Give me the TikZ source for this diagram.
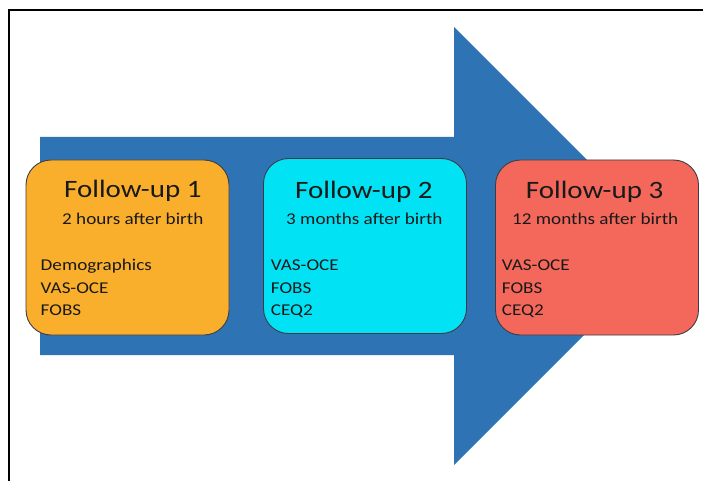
\documentclass[tikz,border=0pt]{standalone}
\usepackage{fontspec}
\setmainfont{Carlito}[FakeStretch=1.16]
\definecolor{arrowblue}{RGB}{46,116,181}
\definecolor{boxorange}{RGB}{250,175,44}
\definecolor{boxcyan}{RGB}{2,226,245}
\definecolor{boxsalmon}{RGB}{243,104,90}
\definecolor{boxedge}{RGB}{60,60,70}
\begin{document}
\begin{tikzpicture}[x=1pt,y=-1pt,
  stagebox/.style={draw=boxedge, line width=0.9pt, rounded corners=25pt,
    minimum width=203pt, minimum height=175pt, inner sep=0pt},
  titletext/.style={anchor=base west, inner sep=0pt, font=\fontsize{25}{28}\selectfont, text=black!90},
  subtext/.style={anchor=base west, inner sep=0pt, font=\fontsize{16.5}{19}\selectfont, text=black!90},
  itemtext/.style={anchor=base west, inner sep=0pt, font=\fontsize{16.5}{19}\selectfont, text=black!90}]
\useasboundingbox (0,0) rectangle (703,481);
\fill[white] (0,0) rectangle (703,481);
\draw[line width=2pt] (9,481) -- (9,10.3) -- (703,10.3);
\fill[arrowblue] (40,137) -- (454,137) -- (454,27) -- (673,246) -- (454,465) -- (454,355) -- (40,355) -- cycle;
% box 1
\node[stagebox, fill=boxorange] (b1) at (127.5,247.5) {};
\node[titletext] (b1t) at (64,197) {Follow-up 1};
\node[subtext] (b1s) at (62,224) {2 hours after birth};
\node[itemtext] (b1a) at (40.5,270.7) {Demographics};
\node[itemtext] (b1b) at (40.5,293.3) {VAS-OCE};
\node[itemtext] (b1c) at (40.5,315.7) {FOBS};
% box 2
\node[stagebox, fill=boxcyan] (b2) at (365,246) {};
\node[titletext] (b2t) at (295,198) {Follow-up 2};
\node[subtext] (b2s) at (286,224) {3 months after birth};
\node[itemtext] (b2a) at (270.7,270.7) {VAS-OCE};
\node[itemtext] (b2b) at (270.7,293.3) {FOBS};
\node[itemtext] (b2c) at (270.7,315.7) {CEQ2};
% box 3
\node[stagebox, fill=boxsalmon] (b3) at (597,247.5) {};
\node[titletext] (b3t) at (525.7,198) {Follow-up 3};
\node[subtext] (b3s) at (512,224) {12 months after birth};
\node[itemtext] (b3a) at (501.7,270.7) {VAS-OCE};
\node[itemtext] (b3b) at (501.7,293.3) {FOBS};
\node[itemtext] (b3c) at (501.7,315.7) {CEQ2};
\end{tikzpicture}
\end{document}
